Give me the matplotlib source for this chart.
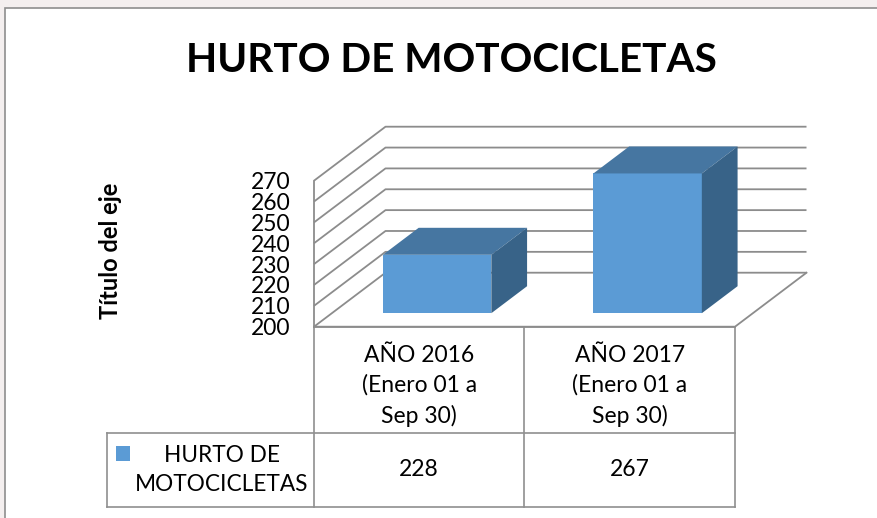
import matplotlib
matplotlib.use("Agg")
import matplotlib.pyplot as plt
from matplotlib.patches import Polygon, Rectangle
from matplotlib.transforms import blended_transform_factory

plt.rcParams['font.family'] = ['Lato', 'DejaVu Sans']

# data
categories = ['AÑO 2016\n(Enero 01 a\nSep 30)', 'AÑO 2017\n(Enero 01 a\nSep 30)']
values = [228, 267]
series_name = 'HURTO DE\nMOTOCICLETAS'
title = 'HURTO DE MOTOCICLETAS'
y_ticks = [200, 210, 220, 230, 240, 250, 260, 270]
y_title = 'Título del eje'

front = '#5b9bd5'
top_c = '#4676a1'
side_c = '#386388'
grid_c = '#8c8c8c'

W, H = 878, 518
fig = plt.figure(figsize=(W / 100, H / 100), dpi=100)
fig.patch.set_facecolor('#f4efef')

# background / frame axes in pixel units
bg = fig.add_axes([0, 0, 1, 1])
bg.set_xlim(0, W)
bg.set_ylim(H, 0)
bg.axis('off')
bg.add_patch(Rectangle((5, 8), W + 20, H + 20, facecolor='white',
                       edgecolor='#8e8e8e', lw=1.2))
bg.text(451, 60, title, ha='center', va='center', fontsize=29.2,
        fontweight='bold', color='black')
bg.text(111, 251, y_title, ha='center', va='center', rotation=90,
        fontsize=17, fontweight='bold')

# plot area = front plane of the 3D box
x0, x1 = 314, 735
yb, yt = 326.7, 180.7
ax = fig.add_axes([x0 / W, (H - yb) / H, (x1 - x0) / W, (yb - yt) / H])
ax.set_xlim(0, len(values))
ax.set_ylim(y_ticks[0], y_ticks[-1])
ax.patch.set_visible(False)
for s in ax.spines.values():
    s.set_visible(False)
ax.set_xticks([])
ax.set_yticks(y_ticks)
ax.tick_params(axis='y', length=0, pad=17, labelsize=16.5)

# depth offset in data units
px_x = (x1 - x0) / len(values)
px_y = (yb - yt) / (y_ticks[-1] - y_ticks[0])
DX = 71.5 / px_x
DY = 54 / px_y
lo, hi = y_ticks[0], y_ticks[-1]
n = len(values)

# walls / gridlines
for v in y_ticks:
    ax.plot([0, DX, n + DX], [v, v + DY, v + DY], color=grid_c, lw=1.3,
            clip_on=False, zorder=1, solid_capstyle='butt')
ax.plot([0, 0], [lo, hi], color=grid_c, lw=1.3, clip_on=False, zorder=1)
ax.plot([0, n, n + DX], [lo, lo, lo + DY], color=grid_c, lw=1.3,
        clip_on=False, zorder=1)

# bars
bw = 0.515
d0, d1 = 0.25, 0.75
for i, v in enumerate(values):
    a = i + 0.5 - bw / 2
    b = i + 0.5 + bw / 2
    fx, fy = DX * d0, DY * d0
    bx, by = DX * d1, DY * d1
    ax.add_patch(Polygon([(a + fx, lo + fy), (b + fx, lo + fy), (b + fx, v + fy), (a + fx, v + fy)],
                         closed=True, facecolor=front, edgecolor='none', clip_on=False, zorder=3))
    ax.add_patch(Polygon([(a + fx, v + fy), (b + fx, v + fy), (b + bx, v + by), (a + bx, v + by)],
                         closed=True, facecolor=top_c, edgecolor='none', clip_on=False, zorder=3))
    ax.add_patch(Polygon([(b + fx, lo + fy), (b + bx, lo + by), (b + bx, v + by), (b + fx, v + fy)],
                         closed=True, facecolor=side_c, edgecolor='none', clip_on=False, zorder=3))

# data table (x in columns, y in pixels)
tr = blended_transform_factory(ax.transData, bg.transData)
row1, row2 = 433, 507
leg_left = (106.7 - x0) / px_x
tcol = '#8f8f8f'
for yy, xa in [(yb, 0), (row1, leg_left), (row2, leg_left)]:
    bg.plot([xa, n], [yy, yy], color=tcol, lw=1.2, transform=tr, clip_on=False)
for xx in range(n + 1):
    bg.plot([xx, xx], [yb, row2], color=tcol, lw=1.2, transform=tr, clip_on=False)
bg.plot([leg_left, leg_left], [row1, row2], color=tcol, lw=1.2, transform=tr, clip_on=False)

for i, (c, v) in enumerate(zip(categories, values)):
    bg.text(i + 0.5, 386, c, transform=tr, ha='center', va='center',
            fontsize=16.5, linespacing=1.5, multialignment='center')
    bg.text(i + 0.5, 470, str(v), transform=tr, ha='center', va='center', fontsize=16.5)

bg.add_patch(Rectangle((116, 446), 14.5, 14.5, facecolor=front, edgecolor='none'))
bg.text(222, 470, series_name, ha='center', va='center', fontsize=16.3,
        linespacing=1.45, multialignment='center')

fig.savefig('out.png', dpi=100)
